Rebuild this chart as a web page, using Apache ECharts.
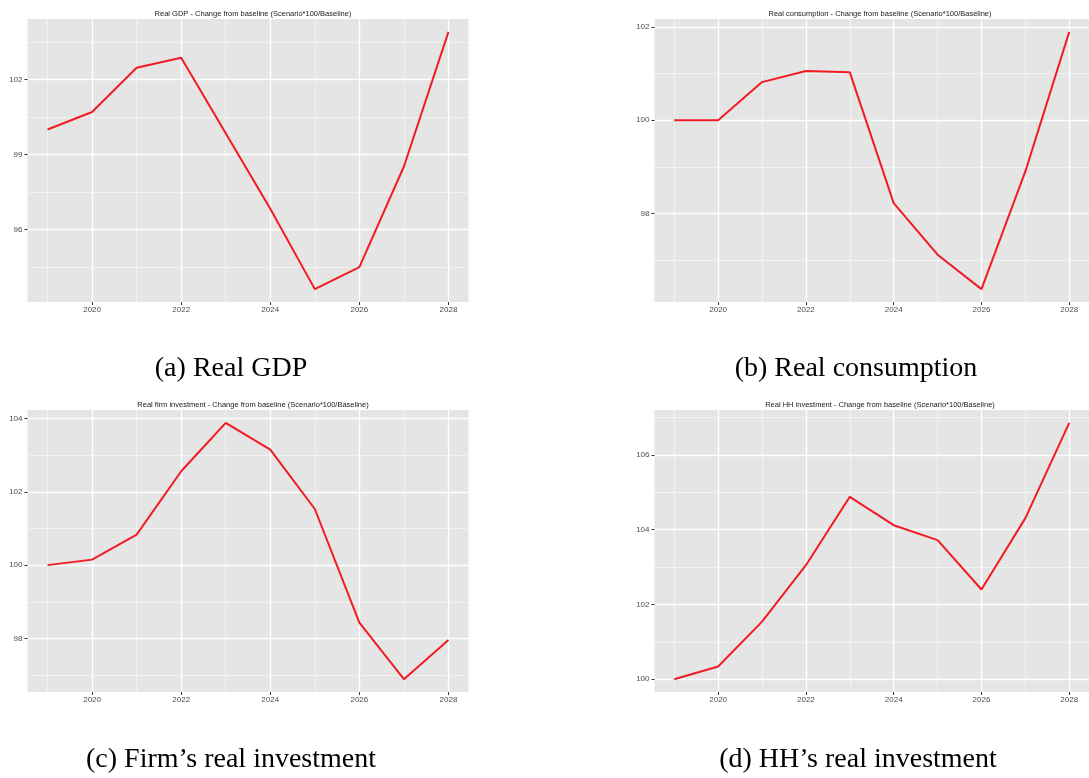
<!DOCTYPE html>
<html>
<head>
<meta charset="utf-8">
<script src="https://cdn.jsdelivr.net/npm/echarts@6/dist/echarts.min.js"></script>
<style>
  html, body { margin: 0; padding: 0; background: #fff; }
  #chart { width: 1089px; height: 778px; }
</style>
</head>
<body>
<div id="chart"></div>
<script>
var years = [2019, 2020, 2021, 2022, 2023, 2024, 2025, 2026, 2027, 2028]
var gdp = [100.0, 100.7, 102.47, 102.87, 99.85, 96.83, 93.61, 94.49, 98.52, 103.91]
var consumption = [100.0, 100.0, 100.82, 101.06, 101.03, 98.22, 97.11, 96.37, 98.9, 101.9]
var firmInvestment = [100.0, 100.15, 100.83, 102.56, 103.88, 103.15, 101.53, 98.43, 96.89, 97.96]
var hhInvestment = [100.0, 100.34, 101.54, 103.05, 104.88, 104.12, 103.72, 102.4, 104.31, 106.86]

var yearTicks = [2020, 2022, 2024, 2026, 2028]
var yearMinor = [2019, 2021, 2023, 2025, 2027]
var gdpTicks = [96, 99, 102]
var gdpMinor = [94.5, 97.5, 100.5, 103.5]
var consTicks = [98, 100, 102]
var consMinor = [97, 99, 101]
var firmTicks = [98, 100, 102, 104]
var firmMinor = [97, 99, 101, 103]
var hhTicks = [100, 102, 104, 106]
var hhMinor = [101, 103, 105, 107]

var titles = [
  'Real GDP - Change from baseline (Scenario*100/Baseline)',
  'Real consumption - Change from baseline (Scenario*100/Baseline)',
  'Real firm investment - Change from baseline (Scenario*100/Baseline)',
  'Real HH investment - Change from baseline (Scenario*100/Baseline)'
]
var captions = ['(a) Real GDP', '(b) Real consumption', '(c) Firm\u2019s real investment', '(d) HH\u2019s real investment']

var panels = [
  { data: gdp, ticks: gdpTicks, minor: gdpMinor, left: 27.5, top: 19, height: 283, capX: 231, capY: 369 },
  { data: consumption, ticks: consTicks, minor: consMinor, left: 654.5, top: 19, height: 283, capX: 856, capY: 369 },
  { data: firmInvestment, ticks: firmTicks, minor: firmMinor, left: 27.5, top: 410, height: 282, capX: 231, capY: 760 },
  { data: hhInvestment, ticks: hhTicks, minor: hhMinor, left: 654.5, top: 410, height: 282, capX: 858, capY: 760 }
]
var panelWidth = 441

// ggplot style 5% expansion of the data range
function expand(arr) {
  var lo = Math.min.apply(null, arr)
  var hi = Math.max.apply(null, arr)
  var pad = (hi - lo) * 0.05
  return [lo - pad, hi + pad]
}

function plain(v) {
  return String(v)
}

var labelStyle = { fontFamily: 'Liberation Sans', fontSize: 8, color: '#4D4D4D', formatter: plain }
var xRange = expand(years)

var grids = []
var xAxes = []
var yAxes = []
var series = []
var titleList = []
var graphics = []

panels.forEach(function (p, i) {
  grids.push({
    left: p.left, top: p.top, width: panelWidth, height: p.height,
    show: true, backgroundColor: '#E5E5E5', borderWidth: 0
  })
  var yRange = expand(p.data)
  // major axes
  xAxes.push({
    type: 'value', gridIndex: i, min: xRange[0], max: xRange[1], position: 'bottom',
    axisLine: { show: false },
    axisTick: { show: true, length: 3, customValues: yearTicks, lineStyle: { color: '#333333', width: 1 } },
    axisLabel: Object.assign({ customValues: yearTicks, margin: 4 }, labelStyle),
    splitLine: { show: true, lineStyle: { color: '#FFFFFF', width: 1.4 } }
  })
  yAxes.push({
    type: 'value', gridIndex: i, min: yRange[0], max: yRange[1], position: 'left',
    axisLine: { show: false },
    axisTick: { show: true, length: 3, customValues: p.ticks, lineStyle: { color: '#333333', width: 1 } },
    axisLabel: Object.assign({ customValues: p.ticks, margin: 5 }, labelStyle),
    splitLine: { show: true, lineStyle: { color: '#FFFFFF', width: 1.4 } }
  })
  // minor grid axes
  xAxes.push({
    type: 'value', gridIndex: i, min: xRange[0], max: xRange[1], position: 'top',
    axisLine: { show: false },
    axisTick: { show: false, customValues: yearMinor },
    axisLabel: { show: false, customValues: yearMinor },
    splitLine: { show: true, lineStyle: { color: '#F5F5F5', width: 0.8 } }
  })
  yAxes.push({
    type: 'value', gridIndex: i, min: yRange[0], max: yRange[1], position: 'right',
    axisLine: { show: false },
    axisTick: { show: false, customValues: p.minor },
    axisLabel: { show: false, customValues: p.minor },
    splitLine: { show: true, lineStyle: { color: '#F5F5F5', width: 0.8 } }
  })
  series.push({
    type: 'line',
    xAxisIndex: i * 2,
    yAxisIndex: i * 2,
    data: years.map(function (y, k) { return [y, p.data[k]] }),
    showSymbol: false,
    symbol: 'none',
    lineStyle: { color: '#F21B24', width: 2 },
    z: 5,
    animation: false
  })
  titleList.push({
    text: titles[i],
    left: p.left + panelWidth / 2,
    top: p.top - 14,
    textAlign: 'center',
    textStyle: { fontFamily: 'Liberation Sans', fontSize: 7.5, fontWeight: 'normal', color: '#1A1A1A' }
  })
  graphics.push({
    type: 'text',
    x: p.capX,
    y: p.capY,
    style: {
      text: captions[i],
      fill: '#000000',
      font: '28px "Liberation Serif"',
      textAlign: 'center',
      textVerticalAlign: 'middle'
    }
  })
})

var chart = echarts.init(document.getElementById('chart'))
var option = {
  backgroundColor: '#FFFFFF',
  animation: false,
  title: titleList,
  grid: grids,
  xAxis: xAxes,
  yAxis: yAxes,
  series: series,
  graphic: graphics
}
chart.setOption(option)
</script>
</body>
</html>
